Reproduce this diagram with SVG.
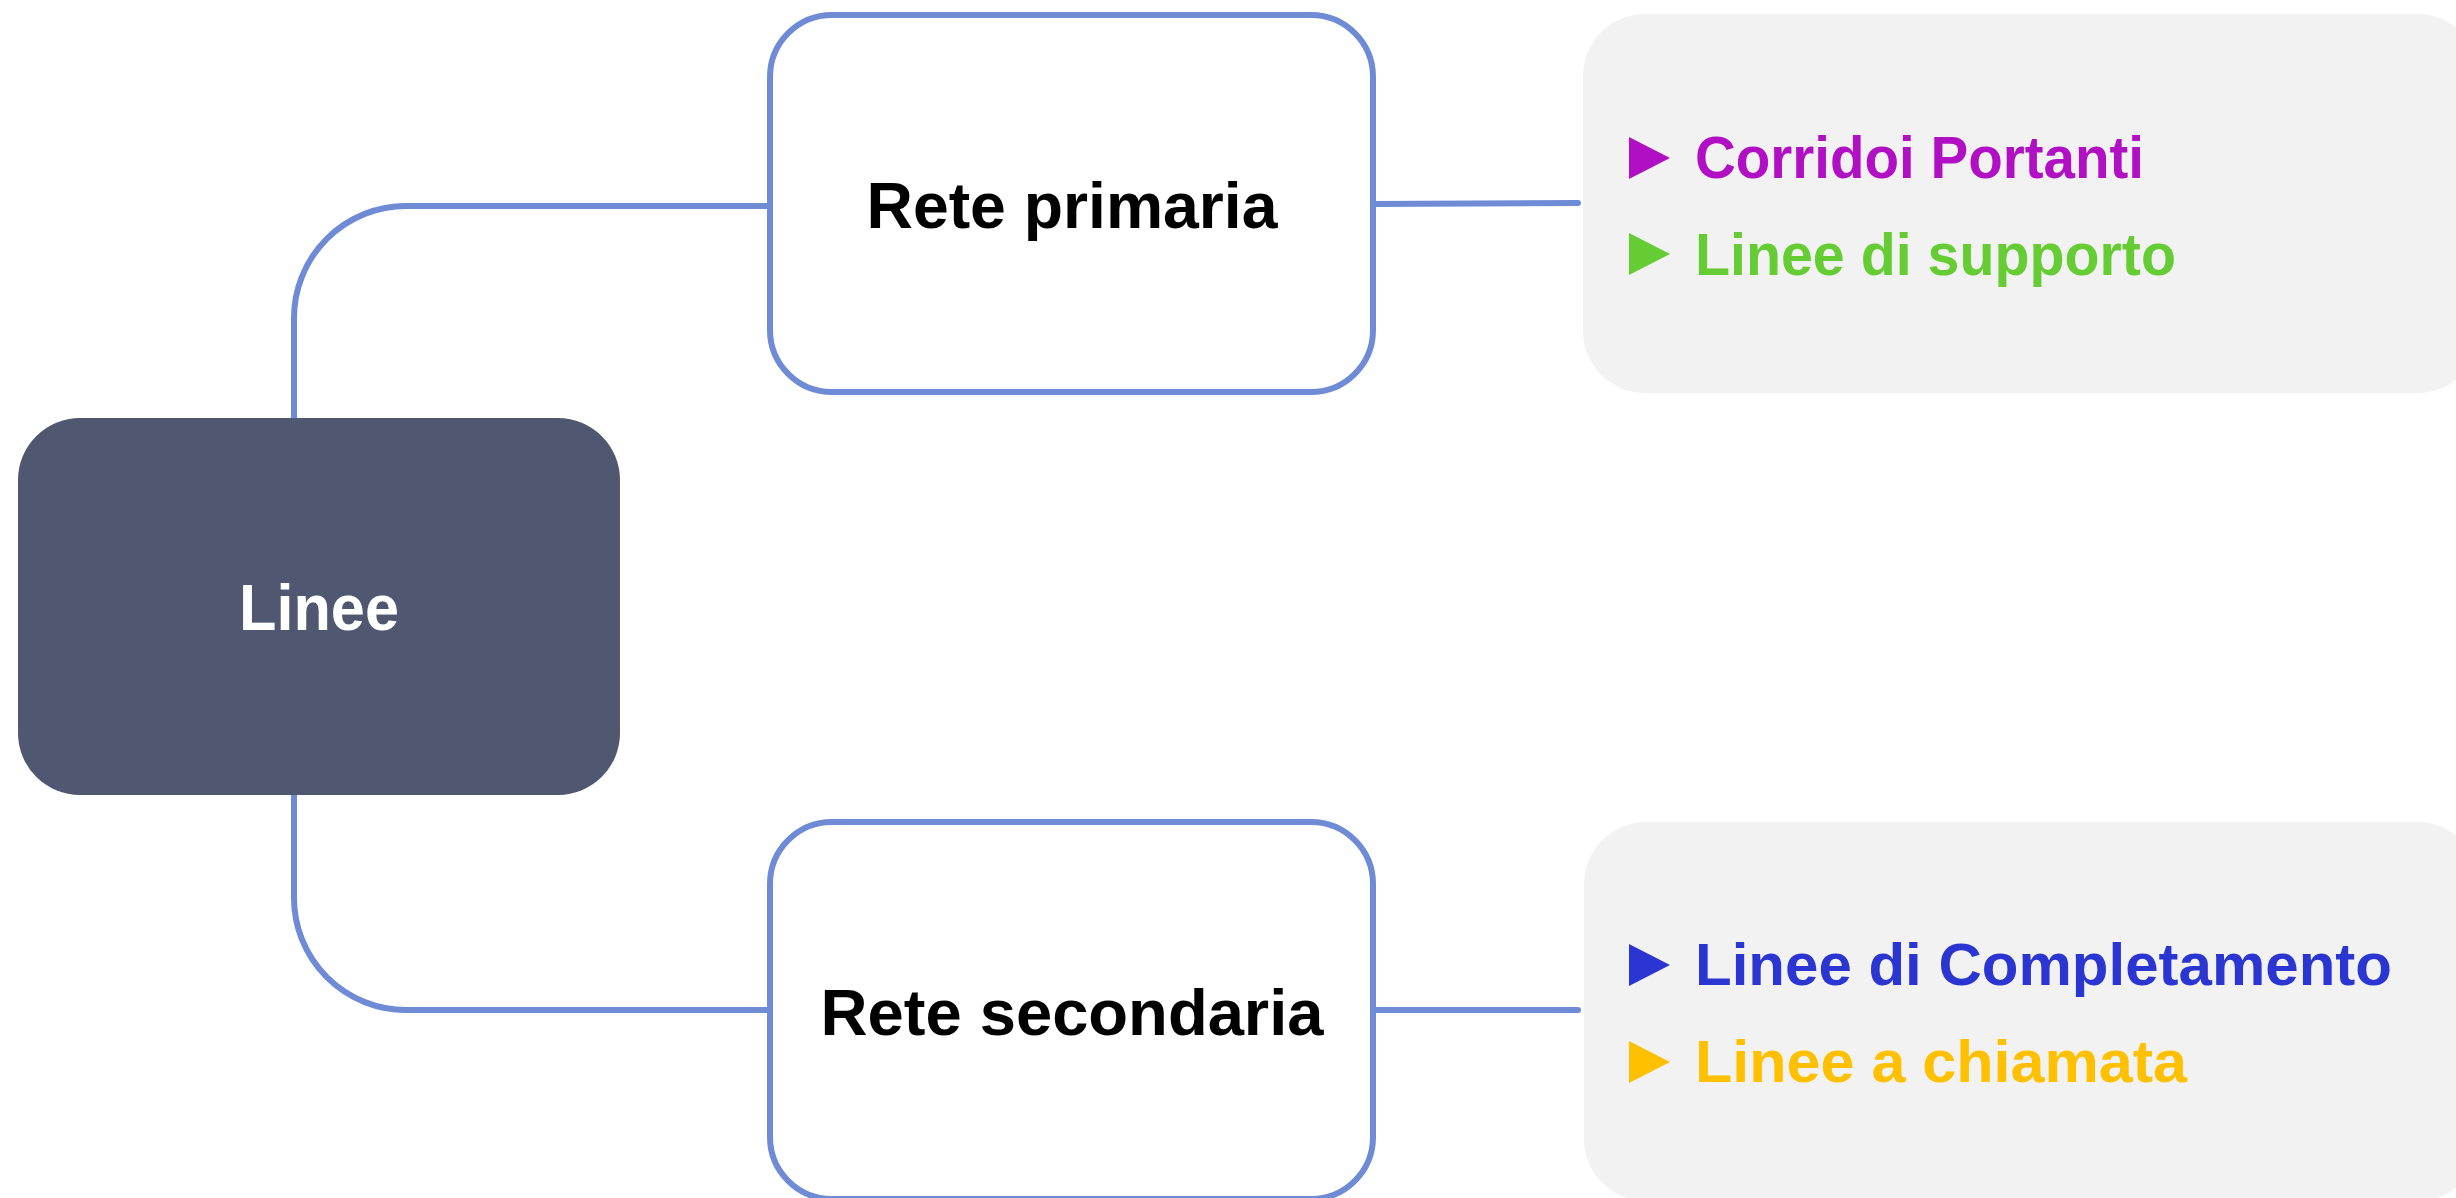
<svg xmlns="http://www.w3.org/2000/svg" width="2456" height="1198" viewBox="0 0 2456 1198">
  <style>
    .conn { fill: none; stroke: #6F8BD6; stroke-width: 6; stroke-linecap: round; }
    .box { fill: #FFFFFF; stroke: #6F8BD6; stroke-width: 6; }
    .panel { fill: #F2F2F2; }
    .lbl { font-family: "Liberation Sans", Arial, sans-serif; font-weight: bold; font-size: 64px; fill: #000000; text-anchor: middle; }
    .item { font-family: "Liberation Sans", Arial, sans-serif; font-weight: bold; font-size: 60px; }
  </style>
  <rect width="2456" height="1198" fill="#FFFFFF"/>
  <g id="connectors">
    <path class="conn" d="M294,418 L294,318 A112,112 0 0 1 406,206 L769,206"/>
    <path class="conn" d="M294,794 L294,898 A112,112 0 0 0 406,1010 L769,1010"/>
    <path class="conn" d="M1374,204 L1578,203"/>
    <path class="conn" d="M1374,1010 L1578,1010"/>
  </g>
  <g id="node-linee">
    <rect x="18" y="418" width="602" height="377" rx="62" ry="62" fill="#4F5870"/>
    <text x="319" y="630" class="lbl" fill="#FFFFFF" style="fill:#FFFFFF" textLength="160" lengthAdjust="spacingAndGlyphs">Linee</text>
  </g>
  <g id="node-rete-primaria">
    <rect class="box" x="770" y="15" width="603" height="377" rx="62" ry="62"/>
    <text x="1072" y="228" class="lbl" textLength="411" lengthAdjust="spacingAndGlyphs">Rete primaria</text>
  </g>
  <g id="node-rete-secondaria">
    <rect class="box" x="770" y="822" width="603" height="377" rx="62" ry="62"/>
    <text x="1072" y="1035" class="lbl" textLength="503" lengthAdjust="spacingAndGlyphs">Rete secondaria</text>
  </g>
  <g id="node-primaria-details">
    <rect class="panel" x="1583" y="14" width="897" height="379" rx="62" ry="62"/>
    <polygon points="1629,137 1670,158 1629,179" fill="#B00FC4"/>
    <text x="1695" y="178" class="item" fill="#B00FC4" textLength="449" lengthAdjust="spacingAndGlyphs">Corridoi Portanti</text>
    <polygon points="1629,233 1670,254 1629,275" fill="#66CC33"/>
    <text x="1695" y="275" class="item" fill="#66CC33" textLength="481" lengthAdjust="spacingAndGlyphs">Linee di supporto</text>
  </g>
  <g id="node-secondaria-details">
    <rect class="panel" x="1584" y="822" width="896" height="379" rx="62" ry="62"/>
    <polygon points="1629,944 1670,965 1629,986" fill="#2B35D1"/>
    <text x="1695" y="985" class="item" fill="#2B35D1" textLength="697" lengthAdjust="spacingAndGlyphs">Linee di Completamento</text>
    <polygon points="1629,1041 1670,1062 1629,1083" fill="#FFC000"/>
    <text x="1695" y="1082" class="item" fill="#FFC000" textLength="492" lengthAdjust="spacingAndGlyphs">Linee a chiamata</text>
  </g>
</svg>
